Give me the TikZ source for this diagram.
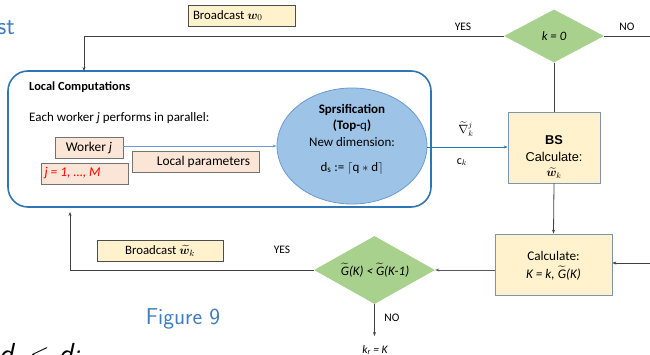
\documentclass[tikz,border=0pt]{standalone}
\usepackage{amsmath,amssymb,bm}
\usepackage{fontspec}
\setmainfont{Carlito}
\newfontfamily\arialf{Liberation Sans}
\usetikzlibrary{shapes.geometric,arrows.meta}
\definecolor{yel}{HTML}{FFF2CC}
\definecolor{peach}{HTML}{FBE5D6}
\definecolor{grn}{HTML}{A9D18E}
\definecolor{ellfill}{HTML}{9DC3E6}
\definecolor{ellline}{HTML}{6A9BD0}
\definecolor{lbox}{HTML}{2E75B6}
\definecolor{slate}{HTML}{7F93AA}
\definecolor{ttl}{HTML}{3F7DC0}
\definecolor{redt}{HTML}{FF0000}
\newcommand{\tG}{$\widetilde{\text{\itshape G}}$}
\begin{document}
\begin{tikzpicture}[x=1pt,y=-1pt,
  tip/.style={-{Stealth[length=4pt,width=3pt]}},
  conn/.style={draw=black!75, line width=0.8pt},
  ybox/.style={draw=black!70, fill=yel, line width=0.6pt, inner sep=0pt, font=\fontsize{12.8}{14}\selectfont},
  pbox/.style={draw=black!55, fill=peach, line width=0.6pt, inner sep=0pt, font=\fontsize{13.4}{15}\selectfont},
  sbox/.style={draw=slate, fill=yel, line width=0.8pt, inner sep=0pt},
  dia/.style={diamond, fill=grn, inner sep=0pt, aspect=1.8},
  lbl/.style={font=\fontsize{11.5}{13}\selectfont, inner sep=0pt},
  txt/.style={font=\fontsize{13}{15}\selectfont, inner sep=0pt}]
\useasboundingbox (0,0) rectangle (650,355);

% slide fragments
\node[anchor=base east, text=ttl, font=\sffamily\fontsize{25}{28}\selectfont, inner sep=0pt] (st) at (15,35) {st};
\node[anchor=base, text=ttl, font=\sffamily\fontsize{23}{26}\selectfont, inner sep=0pt] (fig) at (183,324) {Figure 9};
\node[anchor=base west, font=\sffamily\fontsize{29}{31}\selectfont, inner sep=0pt] (dsd) at (-1,363) {\itshape d\textsubscript{s} {\upshape$\leq$} d;};

% top part
\node[ybox, minimum width=107pt, minimum height=21pt] (bw0) at (241.5,15.5) {\makebox[97pt][l]{Broadcast $\bm{w}_0$}};
\node[dia, minimum width=100pt, minimum height=53pt] (k0) at (554,36) {\fontsize{12.8}{14}\selectfont\itshape k = 0};
\node[lbl] (yes1) at (463,27) {YES};
\node[lbl] (no1) at (627,27) {NO};
\coordinate (tl) at (84,37);
\coordinate (rightend) at (650,36);

% local computations
\node[draw=lbox, line width=1.6pt, rounded corners=20pt, minimum width=423pt, minimum height=136pt, inner sep=0pt] (local) at (219.5,139) {};
\coordinate (ltop) at (84,71);
\node[anchor=base west, font=\bfseries\fontsize{12.4}{14}\selectfont, inner sep=0pt] (lct) at (29,91) {Local Computations};
\node[anchor=base west, txt] (each) at (29,122) {Each worker \textit{j} performs in parallel:};
\node[pbox, minimum width=68pt, minimum height=21pt] (wj) at (89,147.5) {Worker \textit{j}\hspace{4pt}};
\node[pbox, minimum width=127pt, minimum height=21pt] (lp) at (195.5,161.5) {\hspace{16pt}Local parameters};
\node[pbox, minimum width=87pt, minimum height=21pt, text=redt] (jm) at (84.5,173.5) {\makebox[80pt][l]{\itshape j = 1, …, M}};

\node[ellipse, draw=ellline, fill=ellfill, line width=0.8pt, minimum width=150pt, minimum height=116pt, inner sep=0pt] (ell) at (352,146) {};
\node[txt, font=\bfseries\fontsize{13}{15}\selectfont] (e1) at (352,110) {Sprsification};
\node[txt] (e2) at (352,126) {\textbf{(Top-}q\textbf{)}};
\node[txt] (e3) at (352,142) {New dimension:};
\node[txt] (e4) at (352,168) {d\textsubscript{s} := $\lceil$q $*$ d$\rceil$};

\draw[draw=ellline, line width=0.7pt, tip] (wj.east |- 0,146) -- (ell.west);

% BS box
\node[sbox, minimum width=92pt, minimum height=71pt] (bs) at (554,147.5) {};
\node[font=\arialf\bfseries\fontsize{12.8}{14}\selectfont, inner sep=0pt] (bs1) at (554,140) {BS};
\node[font=\arialf\fontsize{12.8}{14}\selectfont, inner sep=0pt] (bs2) at (554,156.5) {Calculate:};
\node[inner sep=0pt, font=\fontsize{12}{14}\selectfont] (bs3) at (554,173) {$\widetilde{\bm{w}}_k$};
\draw[draw=lbox, line width=0.8pt, tip] (ell.east |- 0,147) -- (bs.west |- 0,147);
\node[inner sep=0pt, font=\fontsize{12}{14}\selectfont] (nab) at (466,129) {$\widetilde{\nabla}^{j}_{k}$};
\node[inner sep=0pt, font=\fontsize{12}{14}\selectfont] (ck) at (462,162) {c$_k$};

% calculate box
\node[sbox, minimum width=117pt, minimum height=61pt] (calc) at (553.5,264.5) {};
\node[txt, font=\fontsize{13.2}{15}\selectfont] (c1) at (553.5,256) {Calculate:};
\node[txt, font=\fontsize{13.2}{15}\selectfont] (c2) at (553.5,273) {\itshape K = k, \tG(K)};
\coordinate (rin) at (650,263);

% second diamond
\node[dia, minimum width=121pt, minimum height=68pt] (dg) at (374.5,270) {};
\node[txt, font=\fontsize{13}{15}\selectfont] (dgt) at (375,270) {\itshape \tG(K) < \tG(K-1)};
\node[ybox, minimum width=126pt, minimum height=21pt] (bwk) at (160,250.5) {Broadcast $\widetilde{\bm{w}}_k$};
\node[lbl] (yes2) at (282,250) {YES};
\node[lbl] (no2) at (392,318) {NO};
\node[inner sep=0pt, font=\fontsize{11.5}{13}\selectfont] (kr) at (375,350) {\itshape k\textsubscript{r} = K};
\coordinate (bl) at (70,270);
\coordinate (lbot) at (70,212);
\coordinate (krtop) at (374.5,336);

% connectors
\draw[conn, tip] (k0.west) -- (k0.west -| tl) -- (ltop);
\draw[conn] (k0.east) -- (rightend);
\draw[conn] (k0.south) -- (bs.north);
\draw[conn, tip] (bs.south) -- (calc.north);
\draw[conn, tip] (rin) -- (calc.east |- rin);
\draw[conn, line width=1pt, black!65, tip] (calc.west |- 0,270) -- (dg.east);
\draw[conn, tip] (dg.west) -- (bl) -- (lbot);
\draw[conn, tip] (dg.south) -- (krtop);
\end{tikzpicture}
\end{document}
